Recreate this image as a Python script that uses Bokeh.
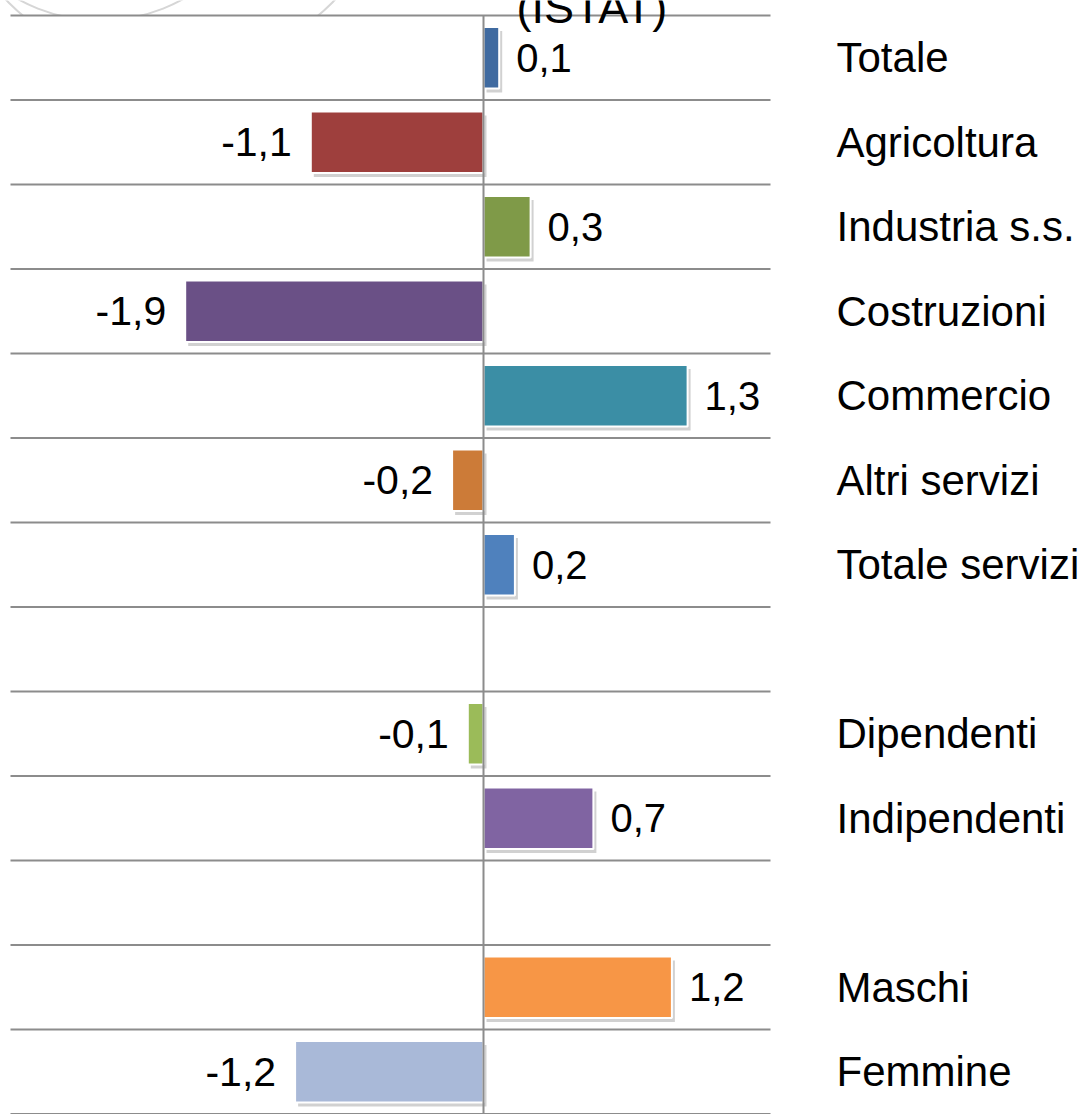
from bokeh.plotting import figure
from bokeh.models import Range1d, ColumnDataSource
from bokeh.embed import file_html
from bokeh.resources import INLINE
from bokeh.core.properties import value

# ---- data ----
categories = ["Totale", "Agricoltura", "Industria s.s.", "Costruzioni", "Commercio",
              "Altri servizi", "Totale servizi", "", "Dipendenti", "Indipendenti",
              "", "Maschi", "Femmine"]
values = [0.1, -1.1, 0.3, -1.9, 1.3, -0.2, 0.2, None, -0.1, 0.7, None, 1.2, -1.2]
labels = ["0,1", "-1,1", "0,3", "-1,9", "1,3", "-0,2", "0,2", "", "-0,1", "0,7", "", "1,2", "-1,2"]
colors = ["#3F6AA0", "#9E3F3D", "#7F9A48", "#6A5086", "#3B8EA5", "#CC7B38", "#4F81BD",
          None, "#9BBB59", "#8064A2", None, "#F79646", "#A9B9D8"]
title_text = "(ISTAT)"

# ---- layout helpers (page pixels -> data) ----
W, H = 1084, 1114
MARGIN = 0
ZERO_PX, PX_PER_UNIT = 483, 157.0
GRID_TOP_PX, ROW_PX = 15, 84.5


def xd(px):
    return (px - ZERO_PX) / PX_PER_UNIT


def yd(py):
    return -(py - GRID_TOP_PX) / ROW_PX


p = figure(width=W, height=H, output_backend="svg", toolbar_location=None,
           x_range=Range1d(xd(MARGIN), xd(MARGIN + W)),
           y_range=Range1d(yd(MARGIN + H), yd(MARGIN)),
           min_border=0)
p.axis.visible = False
p.grid.visible = False
p.outline_line_color = None
p.background_fill_color = "white"
p.border_fill_color = "white"

# faint watermark arcs (top-left)
p.circle(x=[xd(100), xd(170)], y=[yd(-150), yd(-160)], radius=[170, 229],
         radius_units="screen", fill_color=None, line_color="#d6d6d6", line_width=2)
# white plot area covering watermark
p.quad(left=[xd(0)], right=[xd(1090)], top=[yd(GRID_TOP_PX)], bottom=[yd(1200)],
       fill_color="white", line_color=None)

# horizontal grid lines
n = len(categories)
gy = [-(k) for k in range(n + 1)]
p.segment(x0=[xd(10)] * len(gy), x1=[xd(770)] * len(gy), y0=gy, y1=gy,
          line_color="#8c8c8c", line_width=2)

# bars
idx = [i for i, v in enumerate(values) if v is not None]
yc = [-(i + 0.5) for i in idx]
vals = [values[i] for i in idx]
bar_h = 0.73
src = ColumnDataSource(dict(
    y=yc,
    left=[min(0, v) for v in vals],
    right=[max(0, v) for v in vals],
    color=[colors[i] for i in idx],
))
dx, dy = 3 / PX_PER_UNIT, 4 / ROW_PX
shadow = ColumnDataSource(dict(
    left=[min(0, v) + dx for v in vals],
    right=[max(0, v) + dx for v in vals],
    top=[y + bar_h / 2 - dy for y in yc],
    bottom=[y - bar_h / 2 - dy for y in yc],
))
p.quad(left="left", right="right", top="top", bottom="bottom", source=shadow,
       fill_color="#000000", fill_alpha=0.18, line_color=None)
p.hbar(y="y", left="left", right="right", height=bar_h, source=src,
       fill_color="color", line_color="white", line_width=2)

# zero line
p.segment(x0=[0], x1=[0], y0=[0], y1=[yd(1200)], line_color="#8c8c8c", line_width=2)

# value labels
pos = [i for i in idx if values[i] >= 0]
neg = [i for i in idx if values[i] < 0]
p.text(x=[values[i] for i in pos], y=[-(i + 0.5) for i in pos], text=[labels[i] for i in pos],
       x_offset=17, text_align="left", text_baseline="middle",
       text_font=value("Liberation Sans"), text_font_size="40px", text_color="black")
p.text(x=[values[i] for i in neg], y=[-(i + 0.5) for i in neg], text=[labels[i] for i in neg],
       x_offset=-19, text_align="right", text_baseline="middle",
       text_font=value("Liberation Sans"), text_font_size="41px", text_color="black")

# category labels
ci = [i for i, c in enumerate(categories) if c]
p.text(x=[xd(836)] * len(ci), y=[-(i + 0.5) for i in ci], text=[categories[i] for i in ci],
       text_align="left", text_baseline="middle",
       text_font=value("Liberation Sans"), text_font_size="42px", text_color="black")

# title fragment (cut off at the top, as in the source slide)
p.text(x=[xd(516)], y=[yd(7)], text=[title_text], text_align="left",
       text_baseline="middle", text_font=value("Liberation Sans"),
       text_font_size="45px", text_color="black")

open("out.html", "w").write(file_html(p, INLINE))
